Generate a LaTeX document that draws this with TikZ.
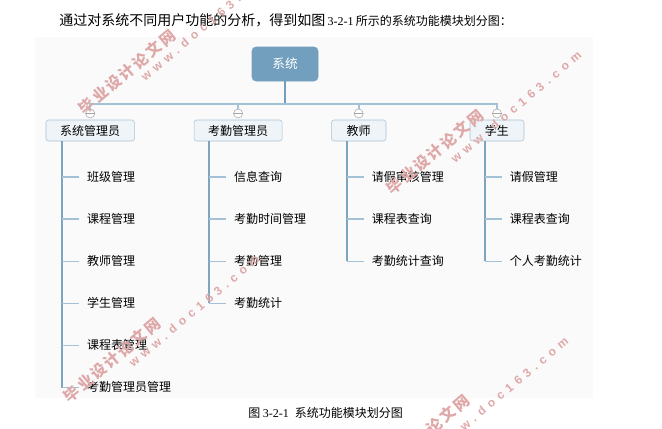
\documentclass[tikz,border=0pt]{standalone}
\usepackage{fontspec}
\setmainfont{Noto Sans CJK SC}
\newfontfamily\numfont{Liberation Serif}
\newfontfamily\markfont{Liberation Sans}[Scale=1]
\usetikzlibrary{positioning}

\definecolor{rootblue}{HTML}{729FBE}
\definecolor{mgrfill}{HTML}{EEF4F8}
\definecolor{mgrline}{HTML}{A9C3D4}
\definecolor{trunkblue}{HTML}{7FA4BE}
\definecolor{twigblue}{HTML}{A3C2D6}
\definecolor{panelgrey}{HTML}{FAFAFB}
\definecolor{markpink}{HTML}{DFA8A8}

\tikzset{
  root/.style={draw=rootblue,fill=rootblue,rounded corners=3pt,text=white,font=\fontsize{9.5}{9.5}\selectfont,
    minimum width=49.5pt,minimum height=25.5pt,inner sep=0pt},
  mgr/.style={draw=mgrline,fill=mgrfill,rounded corners=2pt,font=\fontsize{9}{9}\selectfont,
    minimum height=15.75pt,inner sep=0pt},
  fold/.style={circle,draw=gray!70,fill=white,minimum size=6.75pt,inner sep=0pt},
  leaf/.style={font=\fontsize{9}{9}\selectfont,text width=70pt,align=left,inner xsep=6pt,inner ysep=1pt,
    text height=8pt,text depth=2pt,minimum height=12pt},
  trunk/.style={draw=trunkblue,line width=1.25pt},
  twig/.style={draw=twigblue,line width=1.1pt},
  bus/.style={draw=twigblue,line width=1.4pt},
  stem/.style={draw=rootblue,line width=1.5pt},
  cjkmark/.style={text=markpink,rotate=40,inner sep=0pt,font=\fontsize{11.5}{11.5}\selectfont\bfseries\addfontfeature{LetterSpace=14}},
  urlmark/.style={text=markpink,rotate=40,inner sep=0pt,font=\markfont\fontsize{9}{9}\selectfont\bfseries\addfontfeature{LetterSpace=42}},
  node distance=19.2pt
}

\begin{document}
\begin{tikzpicture}[x=.75pt,y=-.75pt]

  \clip (0,0) rectangle (662,429);
  \fill[panelgrey] (35,37) rectangle (593,398);

  \node[anchor=west,inner sep=0pt] (intro) at (59,20) {\fontsize{10.5}{10.5}\selectfont 通过对系统不同用户功能的分析，得到如图\,{\numfont\fontsize{9}{9}\selectfont 3-2-1}\,{\fontsize{9}{9}\selectfont 所示的系统功能模块划分图：}};
  \node[anchor=west,inner sep=0pt] (caption) at (248,413) {\fontsize{9}{9}\selectfont 图 {\numfont 3-2-1}\hspace{2.5pt} 系统功能模块划分图};

  \node[root] (sys) at (285,64) {系统};

  % second row
  \node[mgr,minimum width=66.4pt] (m1) at (90.25,130.5) {系统管理员};
  \node[mgr,minimum width=66pt] (m2) [right=44.3pt of m1] {考勤管理员};
  \node[mgr,minimum width=40.9pt] (m3) [right=36.6pt of m2] {教师};
  \node[mgr,minimum width=40.5pt] (m4) [right=62.6pt of m3] {学生};

  \node[fold] (c1) [above=1.1pt of m1] {};
  \node[fold] (c2) [above=1.1pt of m2] {};
  \node[fold] (c3) [above=1.1pt of m3] {};
  \node[fold] (c4) [above=1.1pt of m4] {};

  \coordinate[right=12.4pt of m1.south west] (t1);
  \coordinate[right=11.6pt of m2.south west] (t2);
  \coordinate[right=12pt of m3.south west] (t3);
  \coordinate[right=11.6pt of m4.south west] (t4);
  \coordinate (b0) at (sys |- 0,104);

  \node[leaf] (l11) [below right=20.6pt and 12.4pt of t1] {班级管理};
  \node[leaf] (l12) [below=of l11] {课程管理};
  \node[leaf] (l13) [below=of l12] {教师管理};
  \node[leaf] (l14) [below=of l13] {学生管理};
  \node[leaf] (l15) [below=of l14] {课程表管理};
  \node[leaf] (l16) [below=of l15] {考勤管理员管理};

  \node[leaf] (l21) [below right=20.6pt and 12.4pt of t2] {信息查询};
  \node[leaf] (l22) [below=of l21] {考勤时间管理};
  \node[leaf] (l23) [below=of l22] {考勤管理};
  \node[leaf] (l24) [below=of l23] {考勤统计};

  \node[leaf] (l31) [below right=20.6pt and 12.4pt of t3] {请假审核管理};
  \node[leaf] (l32) [below=of l31] {课程表查询};
  \node[leaf] (l33) [below=of l32] {考勤统计查询};

  \node[leaf] (l41) [below right=20.6pt and 12.4pt of t4] {请假管理};
  \node[leaf] (l42) [below=of l41] {课程表查询};
  \node[leaf] (l43) [below=of l42] {个人考勤统计};

  \draw[stem] (sys) -- (b0);
  \draw[bus] (c1.north) |- (b0) -| (c4.north);
  \draw[bus] (c2.north) |- (b0);
  \draw[bus] (c3.north) |- (b0);

  \draw[gray!70] (c1.west) -- (c1.east);
  \draw[gray!70] (c2.west) -- (c2.east);
  \draw[gray!70] (c3.west) -- (c3.east);
  \draw[gray!70] (c4.west) -- (c4.east);

  \draw[trunk] (t1) -- (t1 |- l16.west);
  \draw[trunk] (t2) -- (t2 |- l24.west);
  \draw[trunk] (t3) -- (t3 |- l33.west);
  \draw[trunk] (t4) -- (t4 |- l43.west);

  \draw[twig] (t1 |- l11.west) -- (l11.west);
  \draw[twig] (t1 |- l12.west) -- (l12.west);
  \draw[twig] (t1 |- l13.west) -- (l13.west);
  \draw[twig] (t1 |- l14.west) -- (l14.west);
  \draw[twig] (t1 |- l15.west) -- (l15.west);
  \draw[twig] (t1 |- l16.west) -- (l16.west);
  \draw[twig] (t2 |- l21.west) -- (l21.west);
  \draw[twig] (t2 |- l22.west) -- (l22.west);
  \draw[twig] (t2 |- l23.west) -- (l23.west);
  \draw[twig] (t2 |- l24.west) -- (l24.west);
  \draw[twig] (t3 |- l31.west) -- (l31.west);
  \draw[twig] (t3 |- l32.west) -- (l32.west);
  \draw[twig] (t3 |- l33.west) -- (l33.west);
  \draw[twig] (t4 |- l41.west) -- (l41.west);
  \draw[twig] (t4 |- l42.west) -- (l42.west);
  \draw[twig] (t4 |- l43.west) -- (l43.west);

  % watermarks
  \node[cjkmark] (w1) at (127,72) {毕业设计论文网};
  \node[urlmark] (u1) at (206,25) {www.doc163.com};
  \node[cjkmark] (w2) at (435,152) {毕业设计论文网};
  \node[urlmark] (u2) at (516,107) {www.doc163.com};
  \node[cjkmark] (w3) at (112,360) {毕业设计论文网};
  \node[urlmark] (u3) at (194,311) {www.doc163.com};
  \node[cjkmark] (w4) at (421,437) {毕业设计论文网};
  \node[urlmark] (u4) at (503,393) {www.doc163.com};

\end{tikzpicture}
\end{document}
